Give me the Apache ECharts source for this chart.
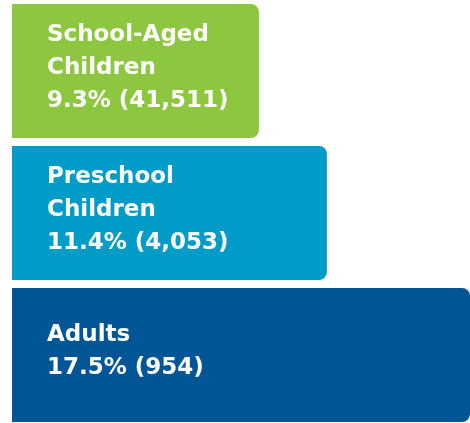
<!DOCTYPE html>
<html><head><meta charset="utf-8">
<script src="https://cdn.jsdelivr.net/npm/echarts@6/dist/echarts.min.js"></script>
<style>html,body{margin:0;padding:0;background:#fff;overflow:hidden}#c{width:470px;height:426px}</style>
</head><body><div id="c"></div>
<script>
const categories = ['School-Aged\nChildren', 'Preschool\nChildren', 'Adults'];
const percents = [9.3, 11.4, 17.5];
const counts = ['41,511', '4,053', '954'];
const colors = ['#8dc63f', '#009cc8', '#005596'];

const chart = echarts.init(document.getElementById('c'), null, {renderer: 'canvas'});
chart.setOption({
  animation: false,
  grid: {left: 12, right: 0, top: 0, bottom: 0, containLabel: false},
  xAxis: {type: 'log', logBase: Math.E, min: 4.44, max: 17.5, show: false},
  yAxis: {type: 'category', data: categories, inverse: true, show: false},
  series: [{
    type: 'bar',
    barWidth: 134,
    data: percents.map((v, i) => ({value: v, itemStyle: {color: colors[i], borderRadius: [0, 8, 8, 0]}})),
    label: {
      show: true,
      position: 'insideLeft',
      distance: 35,
      offset: [0, -3],
      color: '#fff',
      fontFamily: 'DejaVu Sans',
      fontWeight: 'bold',
      fontSize: 23,
      lineHeight: 33,
      formatter: p => categories[p.dataIndex] + '\n' + percents[p.dataIndex] + '% (' + counts[p.dataIndex] + ')'
    }
  }]
});
</script></body></html>
